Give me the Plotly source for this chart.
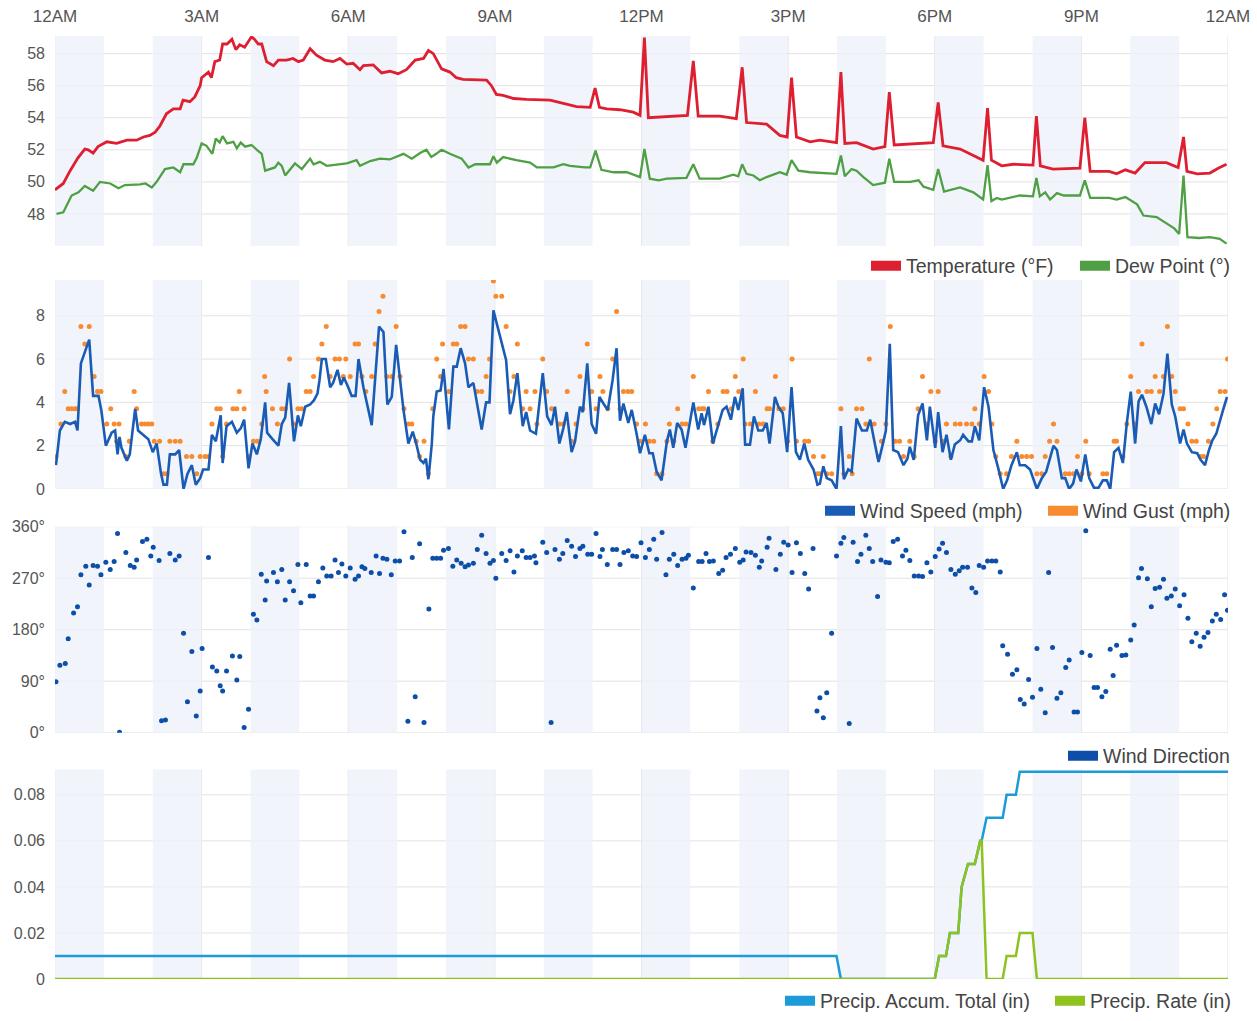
import plotly.graph_objects as go

# ---------------------------------------------------------------- axes / labels
HOUR_TICKS = [0, 3, 6, 9, 12, 15, 18, 21, 24]
HOUR_LABELS = ["12AM", "3AM", "6AM", "9AM", "12PM", "3PM", "6PM", "9PM", "12AM"]

TEMP_TICKS = [48, 50, 52, 54, 56, 58]
WIND_TICKS = [0, 2, 4, 6, 8]
DIR_TICKS = [0, 90, 180, 270, 360]
DIR_LABELS = ["0°", "90°", "180°", "270°", "360°"]
COMPASS_LABELS = ["N", "E", "S", "W", "N"]
PRECIP_TICKS = [0, 0.02, 0.04, 0.06, 0.08]
PRECIP_LABELS = ["0", "0.02", "0.04", "0.06", "0.08"]

# ---------------------------------------------------------------- observations
# (hour of day, value)
TEMPERATURE = [
    (0.00, 49.5), (0.17, 49.9), (0.31, 50.7), (0.47, 51.5), (0.61, 52.05), (0.68, 52.0),
    (0.78, 51.8), (0.88, 52.2), (1.06, 52.5), (1.26, 52.4), (1.47, 52.6), (1.67, 52.6),
    (1.81, 52.8), (1.94, 52.9), (2.05, 53.1), (2.15, 53.5), (2.28, 54.25), (2.42, 54.55),
    (2.56, 54.55), (2.62, 55.1), (2.76, 55.0), (2.86, 55.3), (2.97, 56.0), (3.00, 56.5),
    (3.14, 56.85), (3.20, 56.5), (3.27, 57.5), (3.37, 57.6), (3.43, 58.6), (3.52, 58.6),
    (3.62, 58.9), (3.70, 58.25), (3.78, 58.55), (3.88, 58.4), (4.02, 59.05), (4.08, 58.9),
    (4.16, 58.6), (4.23, 58.6), (4.33, 57.5), (4.47, 57.25), (4.57, 57.6), (4.74, 57.6),
    (4.87, 57.7), (4.98, 57.5), (5.08, 57.6), (5.22, 58.3), (5.35, 57.9), (5.52, 57.6),
    (5.69, 57.5), (5.83, 57.7), (5.97, 57.35), (6.10, 57.4), (6.24, 57.0), (6.31, 57.25),
    (6.51, 57.3), (6.68, 56.8), (6.85, 56.9), (7.02, 56.75), (7.19, 57.0), (7.37, 57.6),
    (7.54, 57.7), (7.64, 58.2), (7.74, 58.0), (7.91, 57.05), (8.08, 56.85), (8.21, 56.5),
    (8.35, 56.4), (8.83, 56.35), (8.93, 56.0), (9.03, 55.45), (9.17, 55.4), (9.38, 55.2),
    (9.65, 55.15), (9.92, 55.1), (10.13, 55.1), (10.40, 54.9), (10.67, 54.7), (10.95, 54.65),
    (11.05, 55.85), (11.14, 54.65), (11.29, 54.55), (11.56, 54.5), (11.83, 54.35), (11.97, 54.15),
    (12.06, 59.0), (12.14, 54.0), (12.38, 54.05), (12.65, 54.1), (12.94, 54.15), (13.06, 57.55),
    (13.16, 54.1), (13.60, 54.1), (13.94, 53.95), (14.06, 57.15), (14.15, 53.7), (14.56, 53.6),
    (14.83, 52.9), (14.98, 52.8), (15.07, 56.5), (15.17, 52.8), (15.45, 52.5), (15.65, 52.6),
    (15.99, 52.45), (16.08, 56.85), (16.16, 52.4), (16.40, 52.45), (16.74, 52.05), (16.98, 52.2),
    (17.07, 55.6), (17.17, 52.3), (17.54, 52.35), (17.97, 52.45), (18.07, 54.95), (18.17, 52.25),
    (18.52, 52.05), (18.72, 51.75), (18.93, 51.4), (18.99, 51.35), (19.08, 54.6), (19.16, 51.35),
    (19.37, 51.0), (19.61, 51.1), (20.01, 51.05), (20.08, 54.1), (20.16, 51.0), (20.42, 50.8),
    (20.97, 50.85), (21.07, 54.0), (21.18, 50.65), (21.57, 50.65), (21.72, 50.5), (21.90, 50.75),
    (22.10, 50.55), (22.30, 51.2), (22.74, 51.2), (22.98, 50.9), (23.09, 52.8), (23.16, 50.65),
    (23.37, 50.5), (23.63, 50.55), (23.80, 50.85), (23.97, 51.1),
]

DEW_POINT = [
    (0.03, 48.0), (0.17, 48.1), (0.34, 49.15), (0.48, 49.35), (0.61, 49.75), (0.78, 49.45),
    (0.92, 50.0), (1.13, 49.9), (1.30, 49.6), (1.43, 49.8), (1.74, 49.85), (1.85, 49.9),
    (1.98, 49.65), (2.08, 50.0), (2.25, 50.8), (2.42, 50.9), (2.56, 50.6), (2.63, 51.1),
    (2.83, 51.1), (2.90, 51.5), (3.00, 52.4), (3.10, 52.25), (3.22, 51.75), (3.29, 52.7),
    (3.37, 52.45), (3.43, 52.85), (3.52, 52.4), (3.65, 52.5), (3.72, 52.1), (3.80, 52.45),
    (3.89, 52.2), (4.02, 52.3), (4.13, 52.0), (4.23, 51.75), (4.30, 50.7), (4.39, 50.8),
    (4.50, 50.9), (4.57, 51.2), (4.64, 51.0), (4.71, 50.4), (4.81, 50.8), (4.91, 51.15),
    (5.05, 50.8), (5.22, 51.45), (5.29, 51.1), (5.42, 51.25), (5.56, 51.0), (5.77, 51.1),
    (5.97, 51.15), (6.17, 51.35), (6.24, 51.0), (6.45, 51.3), (6.65, 51.45), (6.85, 51.4),
    (7.13, 51.75), (7.30, 51.45), (7.47, 51.8), (7.60, 52.0), (7.70, 51.55), (7.80, 51.75),
    (7.91, 52.0), (8.08, 51.75), (8.32, 51.45), (8.46, 50.9), (8.60, 51.1), (8.90, 51.1),
    (8.97, 51.6), (9.04, 51.2), (9.17, 51.55), (9.44, 51.35), (9.72, 51.2), (9.86, 50.9),
    (10.20, 50.9), (10.40, 51.1), (10.54, 51.0), (10.84, 50.9), (10.95, 50.9), (11.06, 51.95),
    (11.18, 50.75), (11.43, 50.6), (11.70, 50.6), (11.97, 50.3), (12.06, 52.05), (12.17, 50.2),
    (12.35, 50.1), (12.52, 50.2), (12.92, 50.25), (13.06, 51.1), (13.19, 50.2), (13.60, 50.2),
    (13.88, 50.45), (13.98, 50.35), (14.06, 51.1), (14.15, 50.5), (14.29, 50.4), (14.42, 50.1),
    (14.56, 50.3), (14.83, 50.6), (14.97, 50.45), (15.07, 51.35), (15.21, 50.7), (15.45, 50.6),
    (15.65, 50.55), (15.99, 50.5), (16.08, 51.65), (16.16, 50.35), (16.30, 50.8), (16.40, 50.7),
    (16.54, 50.3), (16.74, 49.8), (16.98, 49.95), (17.07, 51.45), (17.17, 50.0), (17.50, 50.0),
    (17.67, 50.1), (17.77, 49.7), (17.97, 49.5), (18.07, 50.8), (18.19, 49.4), (18.52, 49.65),
    (18.79, 49.35), (18.99, 48.9), (19.08, 51.05), (19.16, 48.8), (19.27, 49.0), (19.37, 48.9),
    (19.74, 49.15), (20.01, 49.1), (20.08, 50.25), (20.15, 49.1), (20.26, 49.35), (20.36, 48.9),
    (20.50, 49.3), (20.64, 49.15), (20.97, 49.15), (21.07, 50.1), (21.18, 49.0), (21.57, 49.0),
    (21.72, 48.9), (21.90, 49.05), (22.14, 48.6), (22.27, 47.9), (22.54, 47.8), (22.74, 47.4),
    (22.90, 47.1), (23.00, 46.75), (23.09, 50.4), (23.17, 46.55), (23.41, 46.5), (23.63, 46.55),
    (23.83, 46.45), (23.97, 46.15),
]

WIND_SPEED = [
    (0.02, 1.1), (0.10, 2.7), (0.20, 3.1), (0.31, 3.0), (0.41, 3.1), (0.46, 2.7), (0.53, 5.8),
    (0.70, 6.9), (0.78, 4.3), (0.89, 4.3), (0.95, 3.6), (1.04, 2.0), (1.16, 2.6), (1.23, 2.7),
    (1.28, 1.6), (1.32, 2.4), (1.36, 1.9), (1.47, 1.3), (1.53, 1.6), (1.64, 3.7), (1.70, 2.7),
    (1.81, 2.5), (1.91, 2.3), (2.00, 1.7), (2.08, 2.1), (2.17, 0.7), (2.22, 0.2), (2.29, 0.2),
    (2.35, 1.6), (2.46, 1.6), (2.54, 1.8), (2.63, 0.0), (2.71, 0.7), (2.80, 1.1), (2.88, 0.2),
    (2.97, 0.5), (3.03, 0.9), (3.14, 0.9), (3.21, 2.5), (3.29, 2.2), (3.39, 3.4), (3.43, 1.2),
    (3.51, 2.9), (3.62, 3.1), (3.72, 2.6), (3.80, 2.8), (3.87, 3.2), (3.96, 0.95), (4.04, 2.1),
    (4.13, 1.6), (4.21, 2.3), (4.30, 4.0), (4.34, 2.6), (4.45, 2.3), (4.57, 2.0), (4.64, 3.0),
    (4.71, 3.3), (4.79, 4.9), (4.89, 2.2), (4.97, 3.4), (5.03, 2.9), (5.12, 3.8), (5.22, 3.9),
    (5.30, 4.1), (5.37, 4.4), (5.41, 5.0), (5.46, 6.0), (5.54, 6.0), (5.63, 4.7), (5.69, 4.9),
    (5.78, 5.5), (5.85, 4.8), (5.91, 5.15), (6.00, 4.7), (6.07, 4.3), (6.15, 4.3), (6.21, 6.0),
    (6.31, 4.7), (6.38, 3.95), (6.48, 2.95), (6.63, 7.5), (6.72, 7.25), (6.80, 3.9), (6.89, 4.25),
    (6.98, 6.65), (7.06, 5.0), (7.13, 3.65), (7.23, 2.1), (7.32, 2.65), (7.39, 2.1), (7.47, 1.35),
    (7.54, 1.2), (7.59, 1.4), (7.64, 0.45), (7.71, 2.1), (7.74, 3.35), (7.81, 4.5), (7.89, 4.55),
    (7.95, 5.55), (8.06, 2.75), (8.15, 5.65), (8.22, 5.65), (8.30, 6.5), (8.39, 5.8), (8.46, 4.7),
    (8.56, 4.9), (8.66, 3.55), (8.73, 2.75), (8.82, 4.0), (8.89, 4.0), (8.97, 8.25), (9.10, 7.1),
    (9.23, 5.95), (9.31, 3.45), (9.38, 4.1), (9.46, 5.35), (9.57, 2.9), (9.64, 3.55), (9.72, 2.7),
    (9.84, 2.55), (9.98, 5.35), (10.07, 3.35), (10.16, 2.95), (10.23, 3.8), (10.32, 2.1),
    (10.40, 2.8), (10.47, 3.55), (10.57, 1.7), (10.64, 2.2), (10.74, 3.8), (10.80, 3.55),
    (10.89, 5.8), (10.98, 3.0), (11.07, 2.55), (11.14, 4.25), (11.22, 3.95), (11.31, 3.65),
    (11.41, 5.05), (11.49, 6.5), (11.56, 3.15), (11.63, 3.95), (11.73, 3.05), (11.80, 3.65),
    (11.90, 2.55), (11.97, 1.65), (12.07, 2.5), (12.16, 1.65), (12.23, 1.65), (12.31, 0.8),
    (12.41, 0.4), (12.52, 2.2), (12.58, 2.75), (12.65, 1.9), (12.73, 3.05), (12.82, 2.75),
    (12.90, 1.9), (12.98, 2.9), (13.06, 4.0), (13.16, 2.75), (13.23, 3.5), (13.28, 2.95),
    (13.37, 3.8), (13.46, 2.1), (13.55, 2.75), (13.66, 3.65), (13.74, 3.8), (13.83, 3.2),
    (13.91, 4.25), (13.98, 3.65), (14.07, 4.65), (14.12, 2.05), (14.22, 2.05), (14.30, 3.35),
    (14.39, 2.7), (14.48, 2.7), (14.56, 3.05), (14.62, 2.1), (14.73, 4.25), (14.80, 3.8),
    (14.89, 3.5), (14.98, 1.7), (15.07, 4.7), (15.16, 1.7), (15.24, 1.35), (15.33, 2.1),
    (15.41, 1.35), (15.52, 0.9), (15.60, 0.2), (15.65, 0.25), (15.72, 1.05), (15.79, 0.5),
    (15.89, 0.4), (15.99, 0.0), (16.08, 2.9), (16.14, 0.45), (16.23, 0.9), (16.30, 0.8),
    (16.40, 3.25), (16.51, 2.7), (16.61, 2.7), (16.68, 3.2), (16.76, 2.25), (16.85, 1.25),
    (16.95, 2.2), (17.00, 2.7), (17.08, 6.7), (17.15, 1.8), (17.25, 1.7), (17.36, 1.1),
    (17.44, 1.4), (17.49, 1.95), (17.57, 1.35), (17.66, 3.4), (17.75, 3.95), (17.84, 2.25),
    (17.90, 3.8), (18.01, 1.9), (18.07, 3.55), (18.16, 1.7), (18.24, 2.5), (18.33, 1.35),
    (18.41, 2.05), (18.52, 2.25), (18.58, 2.5), (18.69, 2.2), (18.76, 2.2), (18.82, 2.9),
    (18.91, 2.25), (19.01, 4.7), (19.10, 3.8), (19.20, 1.8), (19.30, 0.95), (19.40, 0.0),
    (19.48, 0.4), (19.57, 1.1), (19.68, 1.7), (19.74, 1.1), (19.85, 1.1), (19.95, 0.9),
    (20.09, 0.0), (20.19, 0.5), (20.28, 0.8), (20.36, 1.5), (20.43, 2.0), (20.50, 1.8),
    (20.60, 0.5), (20.67, 0.5), (20.75, 0.0), (20.83, 0.25), (20.90, 0.9), (20.99, 0.35),
    (21.08, 1.6), (21.16, 0.5), (21.26, 0.05), (21.35, 0.05), (21.44, 0.4), (21.52, 0.4),
    (21.59, 0.0), (21.67, 1.7), (21.76, 1.9), (21.85, 1.2), (21.93, 3.05), (22.01, 4.5),
    (22.10, 2.1), (22.17, 4.05), (22.24, 4.35), (22.33, 3.8), (22.43, 3.0), (22.51, 3.95),
    (22.59, 3.45), (22.68, 4.4), (22.76, 6.25), (22.85, 3.9), (22.92, 3.35), (23.02, 2.1),
    (23.09, 2.75), (23.16, 2.1), (23.26, 1.7), (23.37, 1.65), (23.44, 1.35), (23.53, 1.1),
    (23.61, 1.8), (23.68, 2.25), (23.76, 2.55), (23.90, 3.65), (23.98, 4.25),
]

WIND_GUST = [
    (0.02, 1.5), (0.12, 3.0), (0.20, 4.5), (0.27, 3.7), (0.34, 3.7), (0.41, 3.7), (0.46, 3.7),
    (0.53, 7.5), (0.61, 6.7), (0.70, 7.5), (0.80, 5.2), (0.87, 4.5), (0.94, 4.5), (1.06, 3.0),
    (1.14, 3.7), (1.21, 3.0), (1.26, 2.2), (1.31, 3.0), (1.45, 1.5), (1.52, 2.2), (1.62, 4.5),
    (1.67, 3.7), (1.77, 3.0), (1.84, 3.0), (1.91, 3.0), (1.98, 3.0), (2.03, 2.2), (2.14, 2.2),
    (2.22, 0.7), (2.29, 0.7), (2.35, 2.2), (2.46, 2.2), (2.56, 2.2), (2.69, 1.5), (2.80, 1.5),
    (2.90, 0.7), (2.97, 1.5), (3.07, 1.5), (3.14, 1.5), (3.21, 3.0), (3.31, 3.7), (3.38, 3.7),
    (3.43, 1.5), (3.51, 3.0), (3.64, 3.7), (3.72, 3.7), (3.77, 4.5), (3.87, 3.7), (3.96, 1.5),
    (4.06, 2.2), (4.14, 2.2), (4.23, 3.0), (4.29, 5.2), (4.32, 4.5), (4.45, 3.7), (4.55, 3.0),
    (4.64, 3.7), (4.71, 3.7), (4.80, 6.0), (4.88, 3.0), (4.97, 3.7), (5.05, 3.7), (5.14, 4.5),
    (5.22, 4.5), (5.29, 5.2), (5.39, 6.0), (5.46, 6.7), (5.55, 7.5), (5.63, 5.2), (5.73, 6.0),
    (5.82, 6.0), (5.90, 5.2), (5.95, 6.0), (6.04, 5.2), (6.14, 6.7), (6.21, 6.7), (6.28, 5.2),
    (6.36, 4.5), (6.48, 5.2), (6.55, 6.7), (6.63, 8.2), (6.71, 8.9), (6.79, 5.2), (6.89, 5.2),
    (6.98, 7.5), (7.06, 5.2), (7.14, 3.7), (7.23, 3.0), (7.30, 3.0), (7.39, 2.2), (7.46, 1.5),
    (7.55, 2.2), (7.64, 0.7), (7.73, 3.7), (7.81, 6.0), (7.89, 5.2), (7.93, 6.7), (8.06, 4.5),
    (8.15, 6.7), (8.22, 6.7), (8.30, 7.5), (8.39, 7.5), (8.46, 6.0), (8.56, 6.0), (8.64, 4.5),
    (8.73, 4.5), (8.82, 5.2), (8.89, 6.0), (8.97, 9.6), (9.02, 8.9), (9.14, 8.9), (9.23, 7.5),
    (9.31, 4.5), (9.39, 5.2), (9.46, 6.7), (9.57, 3.7), (9.64, 4.5), (9.72, 3.7), (9.82, 4.5),
    (9.86, 3.0), (9.98, 6.0), (10.06, 4.5), (10.16, 3.7), (10.32, 3.0), (10.40, 3.0),
    (10.48, 4.5), (10.57, 2.2), (10.66, 3.0), (10.74, 5.2), (10.80, 3.7), (10.89, 6.7),
    (10.98, 4.5), (11.07, 3.7), (11.15, 5.2), (11.21, 4.5), (11.31, 3.7), (11.41, 6.0),
    (11.49, 8.2), (11.56, 3.7), (11.63, 4.5), (11.72, 4.5), (11.80, 4.5), (11.90, 3.0),
    (11.97, 2.2), (12.08, 3.0), (12.16, 2.2), (12.25, 2.2), (12.31, 0.7), (12.42, 0.7),
    (12.52, 2.2), (12.57, 3.0), (12.66, 2.2), (12.74, 3.7), (12.83, 3.0), (12.91, 3.0),
    (13.06, 5.2), (13.17, 3.7), (13.24, 3.7), (13.28, 3.7), (13.37, 4.5), (13.46, 2.2),
    (13.56, 3.0), (13.67, 4.5), (13.75, 4.5), (13.84, 3.7), (13.92, 5.2), (13.99, 4.5),
    (14.08, 6.0), (14.12, 3.0), (14.23, 3.0), (14.33, 4.5), (14.40, 3.0), (14.49, 3.0),
    (14.57, 3.7), (14.62, 3.7), (14.74, 5.2), (14.81, 3.7), (14.90, 3.7), (14.99, 2.2),
    (15.08, 6.0), (15.17, 2.2), (15.34, 2.2), (15.42, 2.2), (15.52, 1.5), (15.60, 0.7),
    (15.65, 0.7), (15.72, 1.5), (15.79, 0.7), (15.89, 0.7), (16.08, 3.7), (16.14, 0.7),
    (16.25, 1.5), (16.31, 0.7), (16.40, 3.7), (16.51, 3.7), (16.59, 3.0), (16.66, 6.0),
    (16.76, 3.0), (16.85, 1.5), (16.91, 2.2), (17.00, 3.0), (17.09, 7.5), (17.19, 2.2),
    (17.28, 2.2), (17.36, 1.5), (17.49, 2.2), (17.58, 1.5), (17.66, 3.7), (17.75, 5.2),
    (17.84, 3.0), (17.92, 4.5), (18.01, 2.2), (18.07, 4.5), (18.16, 2.2), (18.24, 3.0),
    (18.33, 1.5), (18.42, 3.0), (18.52, 3.0), (18.65, 3.0), (18.76, 3.0), (18.82, 3.7),
    (18.91, 3.0), (19.01, 5.2), (19.10, 4.5), (19.17, 3.0), (19.25, 1.5), (19.34, 0.7),
    (19.47, 0.7), (19.57, 1.5), (19.68, 2.2), (19.78, 1.5), (19.88, 1.5), (19.98, 1.5),
    (20.09, 0.7), (20.19, 0.7), (20.26, 1.5), (20.35, 2.2), (20.43, 3.0), (20.50, 2.2),
    (20.67, 0.7), (20.75, 0.7), (20.84, 0.7), (20.92, 1.5), (21.01, 0.7), (21.09, 2.2),
    (21.16, 0.7), (21.44, 0.7), (21.52, 0.7), (21.67, 2.2), (21.72, 2.2), (21.85, 1.5),
    (21.93, 3.0), (22.01, 5.2), (22.10, 3.0), (22.17, 4.5), (22.24, 6.7), (22.34, 4.5),
    (22.43, 4.5), (22.51, 5.2), (22.60, 4.5), (22.68, 5.2), (22.76, 7.5), (22.85, 5.2),
    (22.92, 4.5), (23.02, 3.7), (23.09, 3.7), (23.18, 3.0), (23.26, 2.2), (23.35, 2.2),
    (23.43, 1.5), (23.50, 1.5), (23.60, 2.2), (23.69, 3.0), (23.77, 3.7), (23.84, 4.5),
    (23.94, 4.5), (23.99, 6.0),
]

WIND_DIRECTION = [
    (0.02, 89), (0.10, 118), (0.21, 121), (0.27, 164), (0.38, 209), (0.46, 220), (0.53, 276),
    (0.63, 291), (0.70, 258), (0.78, 292), (0.87, 291), (0.94, 276), (1.04, 298), (1.13, 285),
    (1.21, 299), (1.28, 348), (1.32, 1), (1.45, 315), (1.54, 292), (1.62, 289), (1.67, 302),
    (1.79, 334), (1.88, 338), (1.96, 309), (2.01, 324), (2.13, 301), (2.18, 21), (2.26, 22),
    (2.35, 313), (2.46, 302), (2.54, 309), (2.63, 174), (2.71, 54), (2.80, 142), (2.89, 29),
    (2.97, 73), (3.01, 147), (3.14, 306), (3.22, 115), (3.31, 108), (3.38, 82), (3.43, 73),
    (3.51, 108), (3.63, 134), (3.72, 92), (3.78, 133), (3.87, 9), (3.96, 41), (4.06, 207),
    (4.13, 197), (4.22, 277), (4.30, 232), (4.33, 265), (4.47, 280), (4.55, 264), (4.64, 285),
    (4.71, 232), (4.80, 264), (4.88, 248), (4.97, 294), (5.03, 227), (5.14, 294), (5.22, 239),
    (5.29, 239), (5.39, 264), (5.48, 288), (5.56, 274), (5.65, 274), (5.73, 302), (5.80, 280),
    (5.87, 295), (5.95, 274), (6.04, 288), (6.14, 268), (6.21, 274), (6.28, 290), (6.34, 287),
    (6.47, 280), (6.57, 309), (6.64, 278), (6.71, 305), (6.79, 303), (6.88, 276), (6.96, 300),
    (7.05, 300), (7.14, 351), (7.22, 20), (7.31, 306), (7.37, 63), (7.46, 330), (7.55, 18),
    (7.65, 216), (7.73, 305), (7.81, 305), (7.89, 305), (7.95, 319), (8.05, 322), (8.14, 291),
    (8.22, 302), (8.31, 296), (8.39, 290), (8.46, 293), (8.56, 296), (8.64, 320), (8.73, 345),
    (8.82, 313), (8.90, 296), (8.97, 301), (9.02, 270), (9.14, 313), (9.23, 301), (9.31, 318),
    (9.39, 281), (9.46, 309), (9.56, 318), (9.64, 306), (9.72, 306), (9.81, 309), (9.84, 297),
    (9.98, 333), (10.06, 315), (10.15, 18), (10.23, 320), (10.32, 303), (10.39, 313),
    (10.48, 336), (10.57, 326), (10.65, 308), (10.74, 322), (10.80, 326), (10.90, 312),
    (10.98, 312), (11.07, 348), (11.15, 308), (11.20, 320), (11.30, 294), (11.41, 320),
    (11.49, 320), (11.56, 294), (11.64, 315), (11.73, 318), (11.82, 309), (11.90, 308),
    (11.99, 332), (12.08, 306), (12.16, 320), (12.25, 338), (12.31, 303), (12.42, 350),
    (12.50, 276), (12.57, 303), (12.66, 312), (12.74, 292), (12.83, 303), (12.91, 305),
    (12.96, 310), (13.06, 253), (13.17, 299), (13.24, 299), (13.32, 313), (13.39, 299),
    (13.47, 300), (13.58, 278), (13.66, 284), (13.73, 306), (13.82, 312), (13.92, 322),
    (14.01, 298), (14.08, 302), (14.14, 316), (14.24, 315), (14.33, 310), (14.41, 289),
    (14.46, 300), (14.57, 324), (14.61, 340), (14.75, 285), (14.84, 312), (14.91, 333),
    (15.00, 328), (15.08, 280), (15.17, 332), (15.25, 313), (15.34, 278), (15.42, 251),
    (15.51, 322), (15.59, 38), (15.65, 61), (15.72, 26), (15.79, 70), (15.89, 174),
    (15.99, 309), (16.08, 331), (16.14, 341), (16.25, 16), (16.33, 333), (16.42, 299),
    (16.49, 312), (16.59, 345), (16.66, 322), (16.73, 299), (16.83, 238), (16.90, 302),
    (17.00, 298), (17.07, 297), (17.15, 334), (17.24, 338), (17.34, 309), (17.41, 319),
    (17.49, 301), (17.58, 274), (17.67, 274), (17.75, 273), (17.84, 297), (17.92, 281),
    (18.01, 308), (18.09, 321), (18.16, 331), (18.24, 315), (18.33, 285), (18.42, 277),
    (18.50, 283), (18.57, 289), (18.67, 289), (18.76, 253), (18.84, 245), (18.91, 292),
    (19.00, 289), (19.08, 300), (19.17, 300), (19.25, 300), (19.34, 281), (19.39, 152),
    (19.49, 137), (19.59, 102), (19.68, 110), (19.75, 58), (19.83, 50), (19.92, 93),
    (20.00, 62), (20.09, 147), (20.17, 76), (20.26, 35), (20.33, 280), (20.41, 149),
    (20.50, 60), (20.58, 70), (20.68, 114), (20.75, 127), (20.85, 36), (20.92, 36),
    (21.01, 140), (21.09, 353), (21.18, 135), (21.26, 79), (21.33, 79), (21.42, 63),
    (21.50, 72), (21.59, 146), (21.65, 100), (21.72, 153), (21.83, 135), (21.91, 136),
    (22.01, 162), (22.08, 188), (22.17, 271), (22.23, 287), (22.35, 269), (22.43, 220),
    (22.51, 252), (22.60, 254), (22.68, 268), (22.75, 235), (22.84, 239), (22.92, 251),
    (23.01, 222), (23.10, 241), (23.18, 200), (23.26, 159), (23.35, 174), (23.43, 151),
    (23.51, 167), (23.59, 175), (23.68, 195), (23.76, 207), (23.85, 198), (23.93, 241),
    (23.99, 214),
]

PRECIP_ACCUM = [
    (0.00, 0.01), (15.99, 0.01), (16.08, 0.0), (18.00, 0.0), (18.09, 0.01), (18.23, 0.01),
    (18.31, 0.02), (18.48, 0.02), (18.55, 0.04), (18.68, 0.05), (18.82, 0.05), (18.93, 0.06),
    (18.96, 0.06), (19.06, 0.07), (19.39, 0.07), (19.47, 0.08), (19.66, 0.08), (19.74, 0.09),
    (24.00, 0.09),
]

PRECIP_RATE = [
    (0.00, 0.0), (18.00, 0.0), (18.09, 0.01), (18.23, 0.01), (18.31, 0.02), (18.48, 0.02),
    (18.55, 0.04), (18.68, 0.05), (18.82, 0.05), (18.93, 0.06), (18.96, 0.06), (19.06, 0.0),
    (19.39, 0.0), (19.47, 0.01), (19.66, 0.01), (19.74, 0.02), (20.00, 0.02), (20.09, 0.0),
    (24.00, 0.0),
]

# ---------------------------------------------------------------- styling
RED = "#dd1f31"
GREEN = "#4f9f45"
BLUE = "#1a5cb5"
ORANGE = "#f78b2f"
NAVY = "#0c4ea8"
CYAN = "#1b9bd7"
LIME = "#8dc21f"
BAND = "#edf3fa"
GRID = "#e2e2e2"
FAMILY = "Liberation Sans, Arial, sans-serif"
YTICK_FONT = dict(family=FAMILY, size=16, color="#555555")
XTICK_FONT = dict(family=FAMILY, size=17, color="#555555")
LEGEND_FONT = dict(family=FAMILY, size=19.5, color="#444444")

W, H = 1257, 1021
M_L, M_R, M_T, M_B = 55, 29, 36, 42
PLOT_W = W - M_L - M_R
PLOT_H = H - M_T - M_B


def frac(px):
    """Pixel row (from the top of the page) -> paper fraction."""
    return (H - M_B - px) / PLOT_H


def xfrac(px):
    """Pixel column -> paper fraction."""
    return (px - M_L) / PLOT_W


def domain(top_px, bottom_px):
    return [max(0.0, frac(bottom_px)), min(1.0, frac(top_px))]


def split(series):
    return [p[0] for p in series], [p[1] for p in series]


fig = go.Figure()


def line(series, color, width, xa, ya, name):
    xs, ys = split(series)
    fig.add_trace(go.Scatter(x=xs, y=ys, mode="lines", name=name,
                             line=dict(color=color, width=width),
                             xaxis=xa, yaxis=ya, showlegend=False))


def dots(series, color, size, xa, ya, name):
    xs, ys = split(series)
    fig.add_trace(go.Scatter(x=xs, y=ys, mode="markers", name=name,
                             marker=dict(color=color, size=size),
                             xaxis=xa, yaxis=ya, showlegend=False))


def key(name, color, legend, xa, ya, width=None):
    # colour swatch shown in a panel's legend
    fig.add_trace(go.Scatter(x=[None], y=[None], mode="lines", name=name,
                             line=dict(color=color, width=14), legendwidth=width,
                             xaxis=xa, yaxis=ya, legend=legend, showlegend=True,
                             hoverinfo="skip"))


# temperature / dew point
line(TEMPERATURE, RED, 2.8, "x", "y", "Temperature (°F)")
line(DEW_POINT, GREEN, 2.3, "x", "y", "Dew Point (°)")
key("Temperature (°F)", RED, "legend", "x", "y", 164)
key("Dew Point (°)", GREEN, "legend", "x", "y")

# wind speed / gusts
dots(WIND_GUST, ORANGE, 5, "x2", "y2", "Wind Gust (mph)")
line(WIND_SPEED, BLUE, 2.6, "x2", "y2", "Wind Speed (mph)")
key("Wind Speed (mph)", BLUE, "legend2", "x2", "y2", 178)
key("Wind Gust (mph)", ORANGE, "legend2", "x2", "y2")

# wind direction
dots(WIND_DIRECTION, NAVY, 5, "x3", "y3", "Wind Direction")
key("Wind Direction", NAVY, "legend3", "x3", "y3")

# precipitation
line(PRECIP_ACCUM, CYAN, 2.5, "x4", "y4", "Precip. Accum. Total (in)")
line(PRECIP_RATE, LIME, 2.5, "x4", "y4", "Precip. Rate (in)")
key("Precip. Accum. Total (in)", CYAN, "legend4", "x4", "y4", 225)
key("Precip. Rate (in)", LIME, "legend4", "x4", "y4")

# grid lines first, then the alternating hour bands laid over them
panels = (("x", "y", TEMP_TICKS), ("x2", "y2", WIND_TICKS),
          ("x3", "y3", DIR_TICKS), ("x4", "y4", PRECIP_TICKS))
grid_shapes, band_shapes = [], []
for xa, ya, yticks in panels:
    for v in yticks:
        grid_shapes.append(dict(type="line", xref=f"{xa} domain", yref=ya,
                                x0=0, x1=1, y0=v, y1=v, layer="below",
                                line=dict(color=GRID, width=1)))
    for h in HOUR_TICKS:
        grid_shapes.append(dict(type="line", xref=xa, yref=f"{ya} domain",
                                x0=h, x1=h, y0=0, y1=1, layer="below",
                                line=dict(color=GRID, width=1)))
    for start in range(0, 24, 2):
        band_shapes.append(dict(type="rect", xref=xa, yref=f"{ya} domain",
                                x0=start, x1=start + 1, y0=0, y1=1, layer="below",
                                fillcolor=BAND, opacity=0.8, line=dict(width=0)))

xcommon = dict(range=[0, 24], tickvals=HOUR_TICKS, showgrid=False, zeroline=False,
               showline=False, ticks="", fixedrange=True)
ycommon = dict(showgrid=False, zeroline=False, showline=False, ticks="",
               tickfont=YTICK_FONT, ticklabelstandoff=9, fixedrange=True)

legend_common = dict(orientation="h", xanchor="left", yanchor="middle",
                     font=LEGEND_FONT, bgcolor="rgba(0,0,0,0)", borderwidth=0,
                     itemwidth=30, traceorder="normal")

fig.update_layout(
    width=W, height=H,
    margin=dict(l=M_L, r=M_R, t=M_T, b=M_B, autoexpand=False),
    paper_bgcolor="white", plot_bgcolor="white",
    showlegend=True,
    shapes=grid_shapes + band_shapes,
    xaxis=dict(xcommon, anchor="y", side="top", ticktext=HOUR_LABELS,
               showticklabels=True, tickfont=XTICK_FONT, ticklabelstandoff=10),
    xaxis2=dict(xcommon, anchor="y2", matches="x", showticklabels=False),
    xaxis3=dict(xcommon, anchor="y3", matches="x", showticklabels=False),
    xaxis4=dict(xcommon, anchor="y4", matches="x", showticklabels=False),
    yaxis=dict(ycommon, domain=domain(36, 246), anchor="x", range=[46, 59.1],
               tickvals=TEMP_TICKS),
    yaxis2=dict(ycommon, domain=domain(280, 489), anchor="x2", range=[0, 9.65],
                tickvals=WIND_TICKS),
    yaxis3=dict(ycommon, domain=domain(526.7, 732.7), anchor="x3", range=[0, 360],
                tickvals=DIR_TICKS, ticktext=DIR_LABELS),
    yaxis5=dict(ycommon, overlaying="y3", anchor="x3", side="right", range=[0, 360],
                tickvals=DIR_TICKS, ticktext=COMPASS_LABELS),
    yaxis4=dict(ycommon, domain=domain(769.5, 979), anchor="x4", range=[0, 0.091],
                tickvals=PRECIP_TICKS, ticktext=PRECIP_LABELS),
    legend=dict(legend_common, x=xfrac(866), y=frac(266)),
    legend2=dict(legend_common, x=xfrac(820), y=frac(511)),
    legend3=dict(legend_common, x=xfrac(1063), y=frac(756)),
    legend4=dict(legend_common, x=xfrac(780), y=frac(1001)),
    hovermode="closest",
)

fig.write_html("out.html")
